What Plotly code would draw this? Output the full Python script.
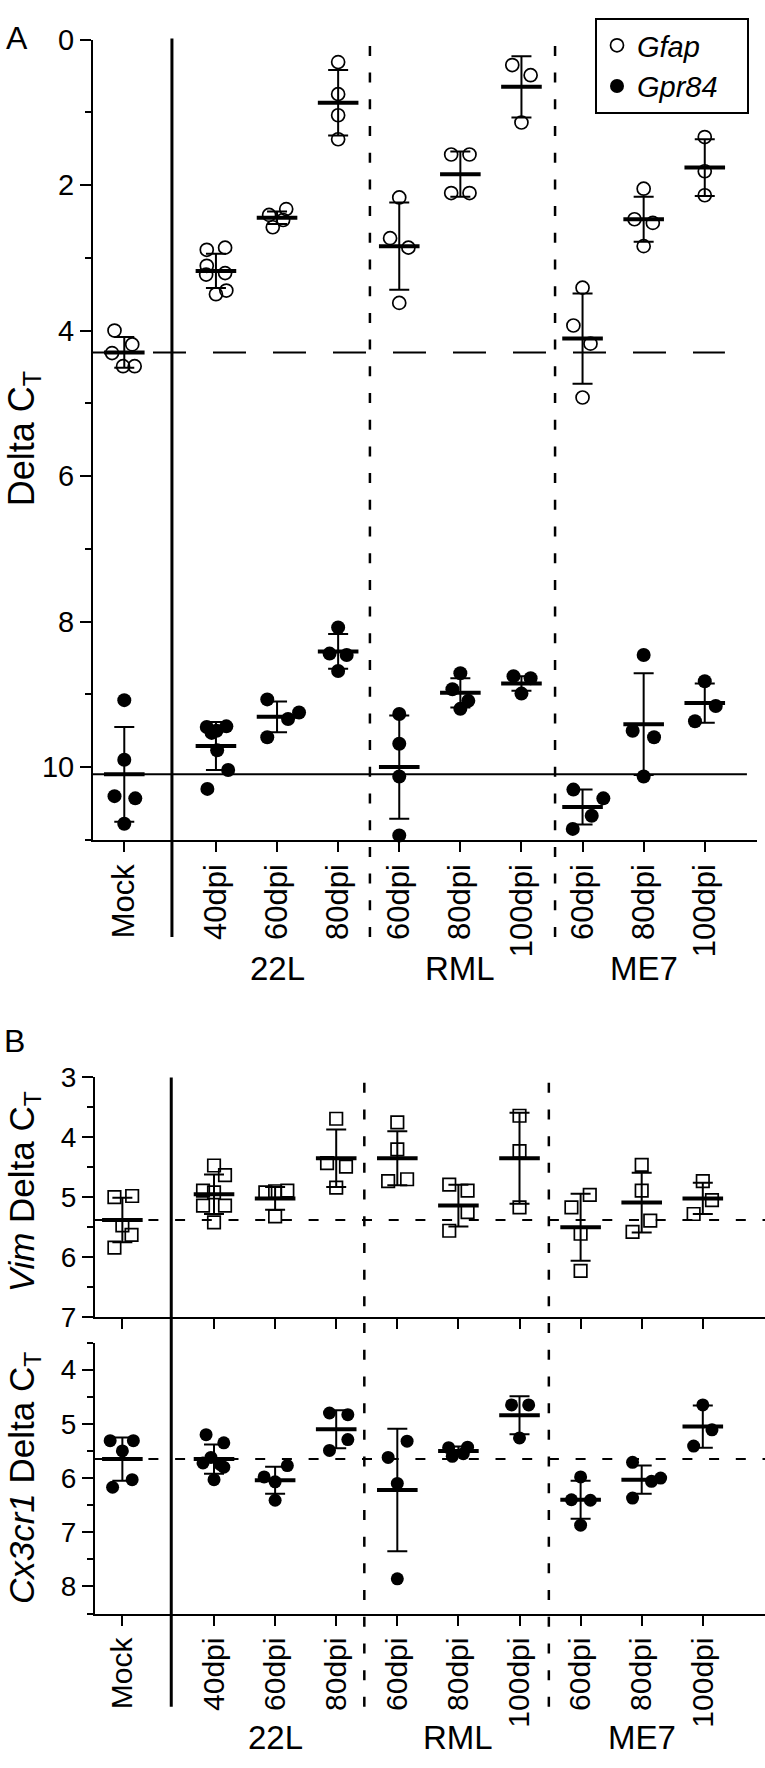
import plotly.graph_objects as go

# ---------------- data ----------------
categories = ["Mock", "40dpi", "60dpi", "80dpi", "60dpi", "80dpi", "100dpi", "60dpi", "80dpi", "100dpi"]
category_pos = [0, 1.5, 2.5, 3.5, 4.5, 5.5, 6.5, 7.5, 8.5, 9.5]
groups = ["22L", "RML", "ME7"]
group_members = [[1, 2, 3], [4, 5, 6], [7, 8, 9]]

gfap_points = [
    [4.00, 4.19, 4.31, 4.49, 4.49],
    [2.89, 2.86, 3.11, 3.23, 3.21, 3.50, 3.45],
    [2.41, 2.33, 2.58, 2.48],
    [0.31, 0.75, 1.04, 1.37],
    [2.17, 2.73, 2.86, 3.62],
    [1.58, 1.58, 2.11, 2.11],
    [0.35, 0.49, 1.14],
    [3.41, 3.93, 4.18, 4.92],
    [2.05, 2.47, 2.52, 2.84],
    [1.34, 1.81, 2.14],
]
gfap_jitter = [
    [-0.16, 0.13, -0.20, -0.02, 0.17],
    [-0.15, 0.15, -0.15, -0.16, 0.15, 0.0, 0.17],
    [-0.13, 0.15, -0.07, 0.10],
    [0, 0, 0, 0],
    [0, -0.15, 0.15, 0],
    [-0.15, 0.15, -0.15, 0.15],
    [-0.15, 0.15, 0],
    [0, -0.15, 0.13, 0],
    [0, -0.15, 0.15, 0],
    [0, 0, 0],
]
gfap_mean = [4.30, 3.18, 2.45, 0.87, 2.84, 1.85, 0.65, 4.11, 2.47, 1.76]
gfap_sd = [0.21, 0.235, 0.085, 0.45, 0.60, 0.31, 0.42, 0.62, 0.31, 0.39]

gpr84_points = [
    [9.08, 9.90, 10.40, 10.43, 10.78],
    [9.45, 9.50, 9.44, 9.53, 9.77, 10.04, 10.30],
    [9.07, 9.25, 9.34, 9.59],
    [8.08, 8.44, 8.46, 8.68],
    [9.27, 9.68, 10.13, 10.94],
    [8.71, 8.93, 9.09, 9.20],
    [8.75, 8.78, 8.99],
    [10.31, 10.43, 10.67, 10.85],
    [8.46, 9.50, 9.59, 10.13],
    [8.82, 9.16, 9.37],
]
gpr84_jitter = [
    [0, 0, -0.16, 0.18, 0],
    [-0.15, 0.01, 0.17, -0.07, 0.02, 0.20, -0.14],
    [-0.16, 0.36, 0.18, -0.16],
    [0, -0.14, 0.14, 0],
    [0, 0, 0, 0],
    [0, -0.13, 0.13, 0],
    [-0.13, 0.15, 0],
    [-0.15, 0.34, 0.15, -0.16],
    [0, -0.18, 0.17, 0],
    [0, 0.18, -0.16],
]
gpr84_mean = [10.10, 9.71, 9.31, 8.41, 10.00, 8.98, 8.85, 10.55, 9.41, 9.12]
gpr84_sd = [0.65, 0.33, 0.21, 0.24, 0.71, 0.20, 0.10, 0.24, 0.70, 0.27]

vim_points = [
    [5.00, 4.98, 5.47, 5.63, 5.84],
    [4.47, 4.63, 4.89, 4.92, 5.14, 5.14, 5.42],
    [4.92, 4.90, 4.89, 5.32],
    [3.69, 4.43, 4.49, 4.84],
    [3.75, 4.20, 4.73, 4.70],
    [4.79, 4.89, 5.25, 5.56],
    [3.64, 4.23, 5.17],
    [4.96, 5.17, 5.61, 6.23],
    [4.46, 4.89, 5.39, 5.58],
    [4.73, 5.05, 5.28],
]
vim_jitter = [
    [-0.13, 0.16, 0, 0.15, -0.13],
    [0, 0.18, -0.18, 0, -0.18, 0.18, 0],
    [-0.16, 0, 0.20, 0],
    [0, -0.15, 0.16, 0],
    [0, 0, -0.15, 0.16],
    [-0.15, 0.15, 0.15, -0.15],
    [0, 0, 0],
    [0.15, -0.15, 0, 0],
    [0, 0, 0.14, -0.15],
    [0, 0.15, -0.15],
]
vim_mean = [5.38, 4.95, 5.02, 4.35, 4.35, 5.14, 4.35, 5.50, 5.09, 5.02]
vim_sd = [0.37, 0.33, 0.19, 0.48, 0.45, 0.35, 0.76, 0.56, 0.50, 0.26]

cx3cr1_points = [
    [5.31, 5.31, 5.50, 6.03, 6.17],
    [5.20, 5.35, 5.62, 5.72, 5.75, 5.80, 6.03],
    [5.77, 5.98, 6.07, 6.41],
    [4.80, 4.83, 5.29, 5.49],
    [5.32, 5.62, 6.10, 7.86],
    [5.44, 5.43, 5.55, 5.60],
    [4.65, 4.65, 5.26],
    [5.98, 6.40, 6.41, 6.87],
    [5.71, 6.06, 6.00, 6.37],
    [4.65, 5.11, 5.41],
]
cx3cr1_jitter = [
    [-0.20, 0.18, 0, 0.16, -0.16],
    [-0.13, 0.16, -0.05, -0.18, 0.10, 0.16, 0],
    [0.20, -0.18, 0, 0],
    [-0.11, 0.19, 0.19, -0.11],
    [0.16, -0.15, 0, 0],
    [-0.16, 0.15, 0.08, -0.10],
    [-0.13, 0.15, 0],
    [0, -0.15, 0.16, 0],
    [-0.15, 0.16, 0.31, -0.15],
    [0, 0.15, -0.15],
]
cx3cr1_mean = [5.65, 5.65, 6.04, 5.10, 6.22, 5.50, 4.84, 6.40, 6.03, 5.05]
cx3cr1_sd = [0.40, 0.27, 0.25, 0.35, 1.13, 0.08, 0.35, 0.35, 0.26, 0.39]

# ---------------- layout helpers ----------------
W, H = 765, 1768
FONT = "Liberation Sans, Arial, Helvetica, sans-serif"
PAD = "&nbsp;&nbsp;&nbsp;"


def px_x(p):
    return p / W


def px_y(p):
    return 1 - p / H


fig = go.Figure()


def add_gene(points, jitter, mean, sd, xa, ya, symbol, size, lw, name, showlegend):
    xs, ys = [], []
    for i, vals in enumerate(points):
        for v, j in zip(vals, jitter[i]):
            xs.append(category_pos[i] + j)
            ys.append(v)
    # mean bar + SD
    fig.add_trace(go.Scatter(
        x=category_pos, y=mean, mode="markers", xaxis=xa, yaxis=ya,
        marker=dict(symbol="line-ew", size=29, color="black",
                    line=dict(color="black", width=4)),
        error_y=dict(type="data", array=sd, visible=True, color="black",
                     thickness=2, width=10),
        showlegend=False, hoverinfo="skip", cliponaxis=False))
    fig.add_trace(go.Scatter(
        x=xs, y=ys, mode="markers", xaxis=xa, yaxis=ya, name=name,
        marker=dict(symbol=symbol, size=size, color="black",
                    line=dict(color="black", width=lw)),
        showlegend=showlegend, cliponaxis=False))


add_gene(gfap_points, gfap_jitter, gfap_mean, gfap_sd, "x", "y",
         "circle-open", 13, 1.7, "<i>Gfap</i>" + PAD, True)
add_gene(gpr84_points, gpr84_jitter, gpr84_mean, gpr84_sd, "x", "y",
         "circle", 14, 0, "<i>Gpr84</i>" + PAD, True)
add_gene(vim_points, vim_jitter, vim_mean, vim_sd, "x2", "y2",
         "square-open", 12.5, 1.7, "Vim", False)
add_gene(cx3cr1_points, cx3cr1_jitter, cx3cr1_mean, cx3cr1_sd, "x3", "y3",
         "circle", 13, 0, "Cx3cr1", False)

axis_common = dict(showgrid=False, zeroline=False, showline=True, linewidth=2,
                   linecolor="black", ticks="outside", tickwidth=2,
                   tickcolor="black")

xrangeA = [-0.512, 10.355]
xrangeB = [-0.448, 10.518]

fig.update_layout(
    width=W, height=H, margin=dict(l=0, r=0, t=0, b=0),
    paper_bgcolor="white", plot_bgcolor="white",
    font=dict(family=FONT, color="black"),
    xaxis=dict(domain=[px_x(93), px_x(757)], range=xrangeA, anchor="y",
               tickvals=category_pos, ticktext=categories, tickangle=-90,
               ticklen=10, tickfont=dict(size=31), **axis_common),
    yaxis=dict(domain=[px_y(839), px_y(24)], range=[11, 0], anchor="x",
               tick0=0, dtick=2, ticklen=11, tickfont=dict(size=29),
               minor=dict(dtick=1, ticks="outside", ticklen=6, tickwidth=2,
                          tickcolor="black", showgrid=False),
               **axis_common),
    xaxis2=dict(domain=[px_x(95), 1.0], range=xrangeB, anchor="y2",
                tickvals=category_pos, showticklabels=False, ticklen=10,
                **axis_common),
    yaxis2=dict(domain=[px_y(1325), px_y(1081)], range=[7, 3], anchor="x2",
                tick0=0, dtick=1, ticklen=11, tickfont=dict(size=28),
                minor=dict(dtick=0.5, ticks="outside", ticklen=6, tickwidth=2,
                           tickcolor="black", showgrid=False),
                **axis_common),
    xaxis3=dict(domain=[px_x(95), 1.0], range=xrangeB, anchor="y3",
                tickvals=category_pos, ticktext=categories, tickangle=-90,
                ticklen=10, tickfont=dict(size=30), **axis_common),
    yaxis3=dict(domain=[px_y(1627), px_y(1351)], range=[8.5, 3.5], anchor="x3",
                tick0=0, dtick=1, ticklen=11, tickfont=dict(size=28),
                minor=dict(dtick=0.5, ticks="outside", ticklen=6, tickwidth=2,
                           tickcolor="black", showgrid=False),
                **axis_common),
    legend=dict(x=px_x(595), y=px_y(2), xanchor="left", yanchor="top",
                bordercolor="black", borderwidth=2, bgcolor="white",
                font=dict(size=29, family=FONT), itemsizing="trace",
                tracegroupgap=0),
)

shapes = []
# panel A separators
sepA = [(0.78, "solid", 3), (4.02, "10px,16.7px", 2.5), (7.05, "10px,16.7px", 2.5)]
for xv, dash, w in sepA:
    shapes.append(dict(type="line", xref="x", yref="paper", x0=xv, x1=xv,
                       y0=px_y(938), y1=px_y(23),
                       line=dict(color="black", width=w, dash=dash)))
sepB = [(0.80, "solid", 3), (3.96, "10px,16.7px", 2.5), (6.98, "10px,16.7px", 2.5)]
for xv, dash, w in sepB:
    shapes.append(dict(type="line", xref="x3", yref="paper", x0=xv, x1=xv,
                       y0=px_y(1722), y1=px_y(1081),
                       line=dict(color="black", width=w, dash=dash)))
# reference lines at mock means
shapes.append(dict(type="line", xref="x", yref="y", x0=xrangeA[0], x1=9.83,
                   y0=gfap_mean[0], y1=gfap_mean[0],
                   line=dict(color="black", width=2, dash="33px,27px")))
shapes.append(dict(type="line", xref="x", yref="y", x0=xrangeA[0], x1=10.19,
                   y0=gpr84_mean[0], y1=gpr84_mean[0],
                   line=dict(color="black", width=2)))
shapes.append(dict(type="line", xref="x2", yref="y2", x0=xrangeB[0], x1=xrangeB[1],
                   y0=vim_mean[0], y1=vim_mean[0],
                   line=dict(color="black", width=2, dash="10px,16.7px")))
shapes.append(dict(type="line", xref="x3", yref="y3", x0=xrangeB[0], x1=xrangeB[1],
                   y0=cx3cr1_mean[0], y1=cx3cr1_mean[0],
                   line=dict(color="black", width=2, dash="10px,16.7px")))
fig.update_layout(shapes=shapes)

ann = []
for g, members in zip(groups, group_members):
    gx = sum(category_pos[m] for m in members) / len(members)
    ann.append(dict(text=g, xref="x", yref="paper", x=gx, y=px_y(970),
                    showarrow=False, font=dict(size=33),
                    xanchor="center", yanchor="middle"))
    ann.append(dict(text=g, xref="x3", yref="paper", x=gx, y=px_y(1753),
                    showarrow=False, font=dict(size=33),
                    xanchor="center", yanchor="middle"))
ann.append(dict(text="A", xref="paper", yref="paper", x=px_x(17), y=px_y(22),
                showarrow=False, font=dict(size=32),
                xanchor="center", yanchor="middle"))
ann.append(dict(text="B", xref="paper", yref="paper", x=px_x(14), y=px_y(1044),
                showarrow=False, font=dict(size=32),
                xanchor="center", yanchor="middle"))
ann.append(dict(text="Delta C<sub>T</sub>", xref="paper", yref="paper",
                x=px_x(24), y=px_y(431), textangle=-90, showarrow=False,
                font=dict(size=36), xanchor="center", yanchor="middle"))
ann.append(dict(text="<i>Vim</i> Delta C<sub>T</sub>", xref="paper", yref="paper",
                x=px_x(24), y=px_y(1198), textangle=-90, showarrow=False,
                font=dict(size=35), xanchor="center", yanchor="middle"))
ann.append(dict(text="<i>Cx3cr1</i> Delta C<sub>T</sub>", xref="paper", yref="paper",
                x=px_x(24), y=px_y(1489), textangle=-90, showarrow=False,
                font=dict(size=35), xanchor="center", yanchor="middle"))
fig.update_layout(annotations=ann)

fig.write_html("out.html", config={"displayModeBar": False},
               post_script="document.body.style.margin='0';document.body.style.overflow='hidden';")
